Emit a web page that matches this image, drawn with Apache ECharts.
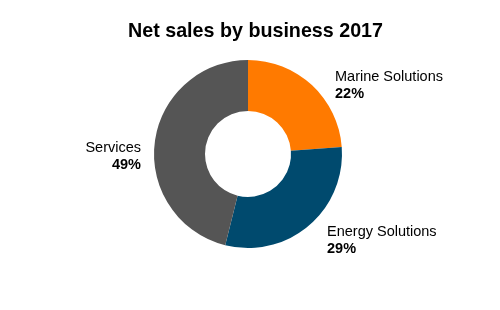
<!DOCTYPE html>
<html>
<head>
<meta charset="utf-8">
<script src="https://cdn.jsdelivr.net/npm/echarts@6/dist/echarts.min.js"></script>
<style>html,body{margin:0;padding:0;background:#fff}#c{width:500px;height:310px}</style>
</head>
<body>
<div id="c"></div>
<script>
var titleText = 'Net sales by business 2017';
var categories = ['Marine Solutions', 'Energy Solutions', 'Services'];
// slice sizes as drawn in the picture (measured angles)
var values = [23.8, 30.1, 46.1];
// percentages printed on the labels
var shareLabels = ['22%', '29%', '49%'];
var colors = ['#FF7A00', '#004A6E', '#555555'];

var labelSpots = [
  {x: 335, y: 68, align: 'left'},
  {x: 327, y: 223, align: 'left'},
  {x: 141, y: 139, align: 'right'}
];

var chart = echarts.init(document.getElementById('c'), null, {renderer: 'canvas'});
chart.setOption({
  animation: false,
  backgroundColor: '#ffffff',
  title: {
    text: titleText,
    left: 250.5,
    textAlign: 'center',
    top: 17,
    textStyle: {fontFamily: 'Liberation Sans, Arial, sans-serif', fontSize: 19.7, fontWeight: 'bold', color: '#000'}
  },
  series: [{
    type: 'pie',
    center: [248, 154],
    radius: [43, 94],
    startAngle: 90,
    clockwise: true,
    silent: true,
    emphasis: {disabled: true},
    itemStyle: {borderWidth: 0},
    data: categories.map(function (c, i) {
      return {name: c, value: values[i], itemStyle: {color: colors[i]}};
    }),
    label: {
      show: true,
      position: 'outside',
      formatter: function (p) {
        return '{n|' + p.name + '}\n{p|' + shareLabels[p.dataIndex] + '}';
      },
      rich: {
        n: {fontFamily: 'Liberation Sans, Arial, sans-serif', fontSize: 14.5, color: '#000', lineHeight: 17},
        p: {fontFamily: 'Liberation Sans, Arial, sans-serif', fontSize: 14.5, fontWeight: 'bold', color: '#000', lineHeight: 17}
      }
    },
    labelLine: {show: false},
    labelLayout: function (params) {
      var s = labelSpots[params.dataIndex];
      return {x: s.x, y: s.y, align: s.align, verticalAlign: 'top'};
    }
  }]
});
</script>
</body>
</html>
